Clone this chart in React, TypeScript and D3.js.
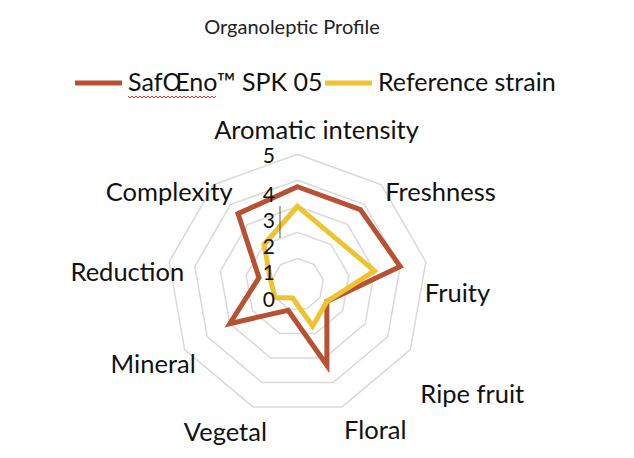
import { useEffect, useRef } from 'react';
import * as d3 from 'd3';

const CATEGORIES = [
  'Aromatic intensity',
  'Freshness',
  'Fruity',
  'Ripe fruit',
  'Floral',
  'Vegetal',
  'Mineral',
  'Reduction',
  'Complexity',
];
const SPK05 = [3.75, 3.75, 4.0, 1.3, 3.3, 1.05, 3.0, 1.5, 3.55];
const REFERENCE = [3.0, 2.3, 3.0, 1.3, 1.7, 0.55, 1.0, 1.05, 2.0];
const TICKS = [0, 1, 2, 3, 4, 5];
const SERIES_NAMES = ['SafŒno™ SPK 05', 'Reference strain'];

const W = 634;
const H = 458;
const CX = 297.5;
const CY = 284.5;
const RADIUS = 130.3;
const FONT = 'Lato, "Open Sans", sans-serif';
const COLORS = ['#B75131', '#EFC330'];

// label placement relative to each outer vertex (Excel puts them a bit irregularly)
const LABEL_LAYOUT: { anchor: string; dx: number; dy: number }[] = [
  { anchor: 'middle', dx: 19, dy: -15 },
  { anchor: 'start', dx: 4, dy: 16 },
  { anchor: 'start', dx: -1, dy: 40 },
  { anchor: 'start', dx: 10, dy: 53 },
  { anchor: 'start', dx: 2, dy: 32 },
  { anchor: 'end', dx: 14, dy: 34 },
  { anchor: 'end', dx: 11, dy: 23 },
  { anchor: 'end', dx: 15, dy: 19 },
  { anchor: 'end', dx: 19, dy: 16 },
];

export default function App() {
  const svgRef = useRef<SVGSVGElement>(null);

  useEffect(() => {
    if (!svgRef.current) return;
    const svg = d3.select(svgRef.current);
    svg.selectAll('*').remove();

    const n = CATEGORIES.length;
    const r = d3.scaleLinear().domain([0, 5]).range([0, RADIUS]);
    const angle = d3
      .scaleLinear()
      .domain([0, n])
      .range([0, 2 * Math.PI]);
    const pt = (i: number, v: number): [number, number] => [
      CX + r(v) * Math.sin(angle(i)),
      CY - r(v) * Math.cos(angle(i)),
    ];

    // title
    svg
      .append('text')
      .attr('x', 292)
      .attr('y', 34)
      .attr('text-anchor', 'middle')
      .style('font-family', FONT)
      .style('font-size', '20px')
      .attr('fill', '#222')
      .text('Organoleptic Profile');

    // legend
    const legendItems = [
      { x: 75, name: SERIES_NAMES[0], color: COLORS[0] },
      { x: 325, name: SERIES_NAMES[1], color: COLORS[1] },
    ];
    legendItems.forEach((d) => {
      svg
        .append('line')
        .attr('x1', d.x)
        .attr('x2', d.x + 47)
        .attr('y1', 83)
        .attr('y2', 83)
        .attr('stroke', d.color)
        .attr('stroke-width', 5);
      svg
        .append('text')
        .attr('x', d.x + 53)
        .attr('y', 91)
        .style('font-family', FONT)
        .style('font-size', '25px')
        .attr('fill', '#111')
        .text(d.name);
    });
    // spellcheck squiggle under "SafŒno"
    const sq: [number, number][] = [];
    for (let x = 128; x <= 216; x += 2) sq.push([x, 97 + ((x / 2) % 2 === 0 ? -1 : 1)]);
    svg
      .append('path')
      .attr('d', d3.line()(sq))
      .attr('fill', 'none')
      .attr('stroke', '#e03030')
      .attr('stroke-width', 1);

    const g = svg.append('g');

    // grid rings
    TICKS.filter((t) => t > 0).forEach((t) => {
      const ring = d3.range(n).map((i) => pt(i, t));
      g.append('path')
        .attr('d', d3.line().curve(d3.curveLinearClosed)(ring))
        .attr('fill', 'none')
        .attr('stroke', '#d9d9d9')
        .attr('stroke-width', 1.5);
    });

    // series
    [SPK05, REFERENCE].forEach((vals, k) => {
      const pts = vals.map((v, i) => pt(i, v));
      g.append('path')
        .attr('d', d3.line().curve(d3.curveLinearClosed)(pts))
        .attr('fill', 'none')
        .attr('stroke', COLORS[k])
        .attr('stroke-width', 5)
        .attr('stroke-linejoin', 'miter');
    });

    // tick labels
    TICKS.forEach((t) => {
      g.append('text')
        .attr('x', 275)
        .attr('y', CY - r(t) + (t === 5 ? 8.5 : 22))
        .attr('text-anchor', 'end')
        .style('font-family', FONT)
        .style('font-size', '21px')
        .attr('fill', '#111')
        .text(String(t));
    });

    // text caret
    g.append('line')
      .attr('x1', 280)
      .attr('x2', 280)
      .attr('y1', 206)
      .attr('y2', 238)
      .attr('stroke', '#555')
      .attr('stroke-width', 1);

    // category labels
    CATEGORIES.forEach((c, i) => {
      const [x, y] = pt(i, 5);
      const l = LABEL_LAYOUT[i];
      g.append('text')
        .attr('x', x + l.dx)
        .attr('y', y + l.dy)
        .attr('text-anchor', l.anchor)
        .style('font-family', FONT)
        .style('font-size', '25.5px')
        .attr('fill', '#111')
        .text(c);
    });
  }, []);

  return (
    <svg
      ref={svgRef}
      width={W}
      height={H}
      viewBox={`0 0 ${W} ${H}`}
      style={{ position: 'absolute', left: 0, top: 0, background: '#fff' }}
    />
  );
}
